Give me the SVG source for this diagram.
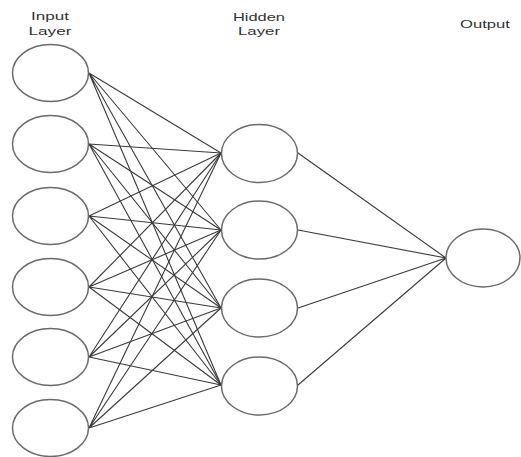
<svg xmlns="http://www.w3.org/2000/svg" width="521" height="457" viewBox="0 0 521 457">
<style>
.n{fill:#fff;stroke:#6a6a6a;stroke-width:1.5}
.e{stroke:#3a3a3a;stroke-width:1.1;fill:none}
.t{font-family:"Liberation Sans",Arial,sans-serif;font-size:11.5px;fill:#333;text-anchor:middle}
</style>
<rect width="521" height="457" fill="#fff"/>
<g id="connectors">
<g class="e">
<path d="M89 73L221 153M89 73L221 230M89 73L221 308M89 73L221 385"/>
<path d="M89 144L221 153M89 144L221 230M89 144L221 308M89 144L221 385"/>
<path d="M89 216L221 153M89 216L221 230M89 216L221 308M89 216L221 385"/>
<path d="M89 287L221 153M89 287L221 230M89 287L221 308M89 287L221 385"/>
<path d="M89 357L221 153M89 357L221 230M89 357L221 308M89 357L221 385"/>
<path d="M89 428L221 153M89 428L221 230M89 428L221 308M89 428L221 385"/>
<path d="M298 153L446 258M298 230L446 258M298 308L446 258M298 385L446 258"/>
</g>
</g>
<g id="labels">
<text class="t" x="50" y="20" textLength="38" lengthAdjust="spacingAndGlyphs">Input</text>
<text class="t" x="50" y="35" textLength="43" lengthAdjust="spacingAndGlyphs">Layer</text>
<text class="t" x="259" y="21" textLength="52" lengthAdjust="spacingAndGlyphs">Hidden</text>
<text class="t" x="259" y="35" textLength="42" lengthAdjust="spacingAndGlyphs">Layer</text>
<text class="t" x="485" y="28" textLength="50" lengthAdjust="spacingAndGlyphs">Output</text>
</g>
<g id="in1"><ellipse class="n" cx="50.5" cy="73" rx="38" ry="28.5"/></g>
<g id="in2"><ellipse class="n" cx="50.5" cy="144" rx="38" ry="28.5"/></g>
<g id="in3"><ellipse class="n" cx="50.5" cy="216" rx="38" ry="28.5"/></g>
<g id="in4"><ellipse class="n" cx="50.5" cy="287" rx="38" ry="28.5"/></g>
<g id="in5"><ellipse class="n" cx="50.5" cy="357" rx="38" ry="28.5"/></g>
<g id="in6"><ellipse class="n" cx="50.5" cy="428" rx="38" ry="28.5"/></g>
<g id="h1"><ellipse class="n" cx="259.5" cy="153.5" rx="38" ry="29"/></g>
<g id="h2"><ellipse class="n" cx="259.5" cy="230" rx="38" ry="29"/></g>
<g id="h3"><ellipse class="n" cx="259.5" cy="308" rx="38" ry="29"/></g>
<g id="h4"><ellipse class="n" cx="259.5" cy="386" rx="38" ry="29"/></g>
<g id="out"><ellipse class="n" cx="483" cy="258" rx="37" ry="29"/></g>
</svg>
